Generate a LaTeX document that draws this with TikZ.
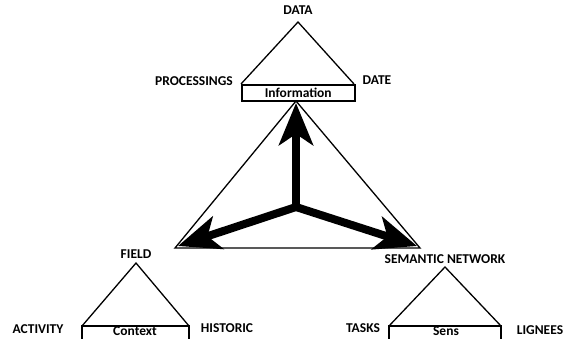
\documentclass[tikz,border=0pt]{standalone}
\usepackage{fontspec}
\setmainfont{Carlito}
\usetikzlibrary{positioning,arrows.meta}

\begin{document}
\begin{tikzpicture}[
    x=1pt, y=-1pt,
    lbl/.style={font=\bfseries\fontsize{13.5}{15}\selectfont, inner sep=1pt},
    tri/.style={draw, line width=1.3pt, line join=miter},
    boxline/.style={draw, line width=1.6pt},
    base/.style={boxline, inner sep=0pt, anchor=north west, font=\bfseries\fontsize{13.5}{15}\selectfont},
    flow/.style={-{Stealth[length=42pt, width=34pt, inset=11pt]}, line width=8pt}
]
    \useasboundingbox (0,0) rectangle (570,339);
    \clip (0,0) rectangle (570,339);

    % information triangle
    \coordinate (iA) at (298,22);
    \coordinate (iL) at (241,84);
    \coordinate (iR) at (354,84);
    \draw[tri] (iL) -- (iA) -- (iR);
    \node[base, minimum width=113pt, minimum height=16pt] (info) at (iL) {Information};
    \node[lbl, above=6pt of iA] (data) {DATA};
    \node[lbl] (proc) at (194,81) {PROCESSINGS};
    \node[lbl] (date) at (377,80) {DATE};

    % context triangle
    \coordinate (cA) at (136,263);
    \coordinate (cL) at (82,326);
    \coordinate (cR) at (189,326);
    \draw[tri] (cL) -- (cA) -- (cR);
    \draw[boxline] (cL) rectangle ++(107,25);
    \node[lbl] (ctx) at (135,331.5) {Context};
    \node[lbl, above=3pt of cA] (field) {FIELD};
    \node[lbl] (act) at (38,329) {ACTIVITY};
    \node[lbl] (hist) at (227,328) {HISTORIC};

    % sens triangle
    \coordinate (sA) at (445,267);
    \coordinate (sL) at (389,326);
    \coordinate (sR) at (501,326);
    \draw[tri] (sL) -- (sA) -- (sR);
    \draw[boxline] (sL) rectangle ++(112,25);
    \node[lbl] (sens) at (446,331.5) {Sens};
    \node[lbl, above=2pt of sA] (sem) {SEMANTIC NETWORK};
    \node[lbl] (task) at (363,328) {TASKS};
    \node[lbl] (lign) at (540,330) {LIGNEES};

    % central triangle
    \coordinate (mA) at (296,101);
    \coordinate (mL) at (175,248);
    \coordinate (mR) at (420,248);
    \coordinate (mid) at (296,207);
    \draw[tri] (mA) -- (mL) -- (mR) -- cycle;

    \draw[flow] (mid) -- (296,103);
    \draw[flow] (mid) -- (178,246);
    \draw[flow] (mid) -- (417,246);
\end{tikzpicture}
\end{document}
